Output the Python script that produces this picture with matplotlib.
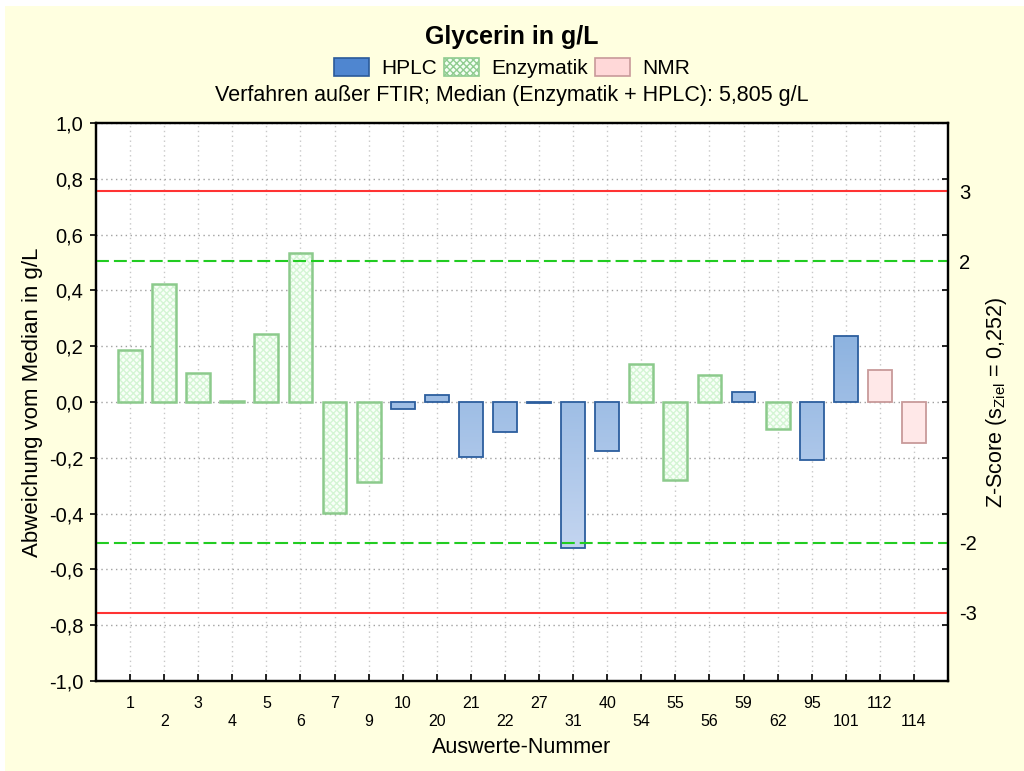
import numpy as np
import matplotlib.pyplot as plt
from matplotlib.patches import Patch, Rectangle
from matplotlib.colors import LinearSegmentedColormap

plt.rcParams['font.family'] = ['Liberation Sans', 'DejaVu Sans']
plt.rcParams['mathtext.fontset'] = 'custom'
plt.rcParams['mathtext.rm'] = 'Liberation Sans'
plt.rcParams['mathtext.it'] = 'Liberation Sans'
plt.rcParams['axes.unicode_minus'] = False

# Auswerte-Nummer, Verfahren, Abweichung vom Median (g/L)
codes = ['1', '2', '3', '4', '5', '6', '7', '9', '10', '20', '21', '22',
         '27', '31', '40', '54', '55', '56', '59', '62', '95', '101', '112', '114']
methods = ['E', 'E', 'E', 'E', 'E', 'E', 'E', 'E', 'H', 'H', 'H', 'H',
           'H', 'H', 'H', 'E', 'E', 'E', 'H', 'E', 'H', 'H', 'N', 'N']
values = [0.185, 0.424, 0.105, 0.005, 0.244, 0.535, -0.398, -0.287, -0.024, 0.026, -0.197, -0.106,
          -0.005, -0.525, -0.174, 0.135, -0.278, 0.095, 0.037, -0.096, -0.207, 0.235, 0.114, -0.148]
s_ziel = 0.252
z_ticks = [3, 2, -2, -3]
y_ticks = [1.0, 0.8, 0.6, 0.4, 0.2, 0.0, -0.2, -0.4, -0.6, -0.8, -1.0]

fig = plt.figure(figsize=(10.24, 7.71), dpi=100)
fig.patch.set_facecolor('white')
fig.patches.append(Rectangle((5 / 1024, 0), 1, 1 - 6 / 771, transform=fig.transFigure,
                             facecolor='#ffffe0', edgecolor='none', zorder=-10))

ax = fig.add_axes([96 / 1024, 1 - 681 / 771, 852 / 1024, 558 / 771])
ax.set_facecolor('white')
x = np.arange(len(codes))
w = 0.7

grad_cmap = LinearSegmentedColormap.from_list('hplc', ['#e5eafa', '#5791d0'])
grad = np.linspace(1, 0, 256).reshape(-1, 1)

for xi, v, m in zip(x, values, methods):
    if m == 'H':
        b = ax.bar(xi, v, w, facecolor='none', edgecolor='#2c5e9e', linewidth=1.3, zorder=4)[0]
        im = ax.imshow(grad, cmap=grad_cmap, extent=(-1, 24, -1, 1), aspect='auto',
                       vmin=0, vmax=1, zorder=3)
        im.set_clip_path(b)
    elif m == 'E':
        ax.bar(xi, v, w, facecolor='#f8fff8', edgecolor='#d4f5d4', hatch='xxxxx',
               linewidth=0, zorder=3)
        ax.bar(xi, v, w, facecolor='none', edgecolor='#8cca8c', linewidth=1.8, zorder=4)
    else:
        ax.bar(xi, v, w, facecolor='#ffe8e8', edgecolor='#c89a9a', linewidth=1.3, zorder=4)

for z in (3, -3):
    ax.axhline(z * s_ziel, color='#ff3333', linewidth=1.5, zorder=5)
for z in (2, -2):
    ax.axhline(z * s_ziel, color='#22cc22', linewidth=1.5, dashes=(6.2, 2.4), zorder=5)

ax.set_xlim(-1, 24)
ax.set_ylim(-1, 1)
ax.set_yticks(y_ticks)
ax.set_yticklabels([('%.1f' % t).replace('.', ',') for t in y_ticks], fontsize=14.5)
ax.set_xticks(x)
ax.set_xticklabels([('\n' + c) if i % 2 else c for i, c in enumerate(codes)],
                   fontsize=11.5, linespacing=1.2)
ax.tick_params(axis='x', direction='in', length=5, width=1.2, pad=11)
ax.tick_params(axis='y', direction='out', length=4, width=1.2, pad=5)

ax.grid(axis='y', linestyle=(0, (1, 2.5)), color='#a0a0a0', linewidth=1.0, zorder=0)
ax.grid(axis='x', linestyle=(0, (1, 2.5)), color='#c8c8c8', linewidth=1.0, zorder=0)
ax.set_axisbelow(True)
for sp in ax.spines.values():
    sp.set_linewidth(1.6)

ax.set_xlabel('Auswerte-Nummer', fontsize=15.5)
ax.xaxis.set_label_coords(0.5, (681 - 737) / 558)
ax.set_ylabel('Abweichung vom Median in g/L', fontsize=16)
ax.yaxis.set_label_coords((43 - 96) / 852, 0.5)

ax2 = ax.twinx()
ax2.set_ylim(-1, 1)
ax2.set_yticks([z * s_ziel for z in z_ticks])
ax2.set_yticklabels([str(z) for z in z_ticks], fontsize=14.5)
ax2.set_yticks(y_ticks, minor=True)
ax2.tick_params(axis='y', which='major', length=0, pad=8)
ax2.tick_params(axis='y', which='minor', direction='in', length=4, width=1.2)
ax2.set_ylabel(r'Z-Score (s$_{\mathrm{Ziel}}$ = 0,252)', fontsize=15.5)
ax2.yaxis.set_label_coords((984 - 96) / 852, 0.5)
for sp in ax2.spines.values():
    sp.set_linewidth(1.6)

fig.text(0.5, 1 - 37 / 771, 'Glycerin in g/L', fontsize=18, fontweight='bold',
         ha='center', va='center')
handles = [Patch(facecolor='#4f86d0', edgecolor='#2a5a9a', linewidth=1.2),
           Patch(facecolor='#f4fff4', edgecolor='#90cc90', hatch='xxxxx', linewidth=1.2),
           Patch(facecolor='#ffd8d8', edgecolor='#c89a9a', linewidth=1.2)]
fig.legend(handles, ['HPLC', 'Enzymatik', 'NMR'], loc='center', bbox_to_anchor=(0.5, 1 - 68 / 771),
           ncol=3, frameon=False, fontsize=15, handlelength=1.7, handleheight=1.0,
           handletextpad=0.6, columnspacing=0.3, borderpad=0.1)
fig.text(0.5, 1 - 95 / 771, 'Verfahren außer FTIR; Median (Enzymatik + HPLC): 5,805 g/L',
         fontsize=15.5, ha='center', va='center')

fig.savefig('out.png', dpi=100, facecolor=fig.get_facecolor())
